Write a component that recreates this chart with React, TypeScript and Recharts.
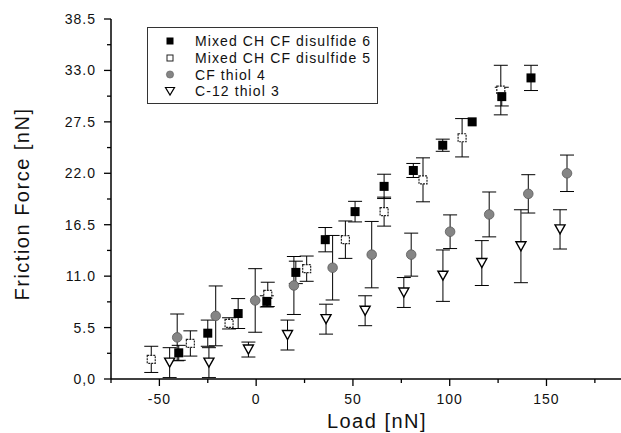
import { ErrorBar, Legend, Scatter, ScatterChart, XAxis, YAxis } from 'recharts';

// Mixed CH CF disulfide 6 (filled squares)
const disulfide6Load = [-40, -25, -9.3, 5.5, 20.5, 35.7, 51.1, 66.1, 81.2, 96.4, 111.6, 126.9, 142];
const disulfide6Force = [2.8, 4.9, 7.0, 8.3, 11.4, 14.9, 17.9, 20.6, 22.3, 25.0, 27.5, 30.2, 32.2];
const disulfide6Err = [0.8, 1.4, 1.6, 0.6, 1.2, 1.3, 1.1, 1.3, 0.75, 0.65, 0, 1.0, 1.35];

// Mixed CH CF disulfide 5 (open squares)
const disulfide5Load = [-54.2, -34, -14, 6.0, 26.1, 46.1, 66.1, 86.2, 106.4, 126.4];
const disulfide5Force = [2.1, 3.8, 5.95, 9.05, 11.8, 14.9, 17.9, 21.3, 25.8, 30.9];
const disulfide5Err = [1.4, 1.35, 0.6, 1.3, 1.35, 2.0, 1.55, 2.35, 2.05, 2.65];

// CF thiol 4 (grey circles)
const cfThiolLoad = [-40.8, -20.9, -0.5, 19.5, 39.5, 59.7, 80.1, 100.2, 120.4, 140.6, 160.6];
const cfThiolForce = [4.45, 6.75, 8.4, 10.0, 11.9, 13.3, 13.3, 15.75, 17.6, 19.8, 22.0];
const cfThiolErr = [2.5, 3.2, 3.4, 3.1, 3.45, 3.55, 2.3, 1.8, 2.4, 2.05, 1.95];

// C-12 thiol 3 (open triangles)
const c12Load = [-44.7, -24.4, -4, 16.2, 36.1, 56.3, 76.3, 96.5, 116.6, 136.8, 157];
const c12Force = [1.75, 1.75, 3.15, 4.7, 6.4, 7.3, 9.25, 11.05, 12.4, 14.2, 16.0];
const c12Err = [1.6, 1.6, 0.8, 1.6, 1.6, 1.6, 1.6, 2.75, 2.4, 3.9, 2.1];

const seriesNames = ['Mixed CH CF disulfide 6', 'Mixed CH CF disulfide 5', 'CF thiol 4', 'C-12 thiol 3'];

const xTicks = [-75, -50, -25, 0, 25, 50, 75, 100, 125, 150, 175];
const yTicks = [0, 2.75, 5.5, 8.25, 11, 13.75, 16.5, 19.25, 22, 24.75, 27.5, 30.25, 33, 35.75, 38.5];
const yLabels = ['0,0', '5.5', '11.0', '16.5', '22.0', '27.5', '33.0', '38.5'];

const FONT = 'Liberation Sans, Arial, sans-serif';

const toPoints = (xs: number[], ys: number[], es: number[]) =>
  xs.map((x, i) => ({ load: x, force: ys[i], err: es[i] }));

function FilledSquare({ cx, cy, s = 9 }: any) {
  return <rect x={cx - s / 2} y={cy - s / 2} width={s} height={s} fill="#000" />;
}

function OpenSquare({ cx, cy, s = 8 }: any) {
  return (
    <rect x={cx - s / 2} y={cy - s / 2} width={s} height={s} fill="#fff" stroke="#222" strokeWidth={1.2} strokeDasharray="2 1" />
  );
}

function GreyCircle({ cx, cy, r = 4.8 }: any) {
  return <circle cx={cx} cy={cy} r={r} fill="#858585" stroke="#5a5a5a" strokeWidth={0.8} />;
}

function DownTriangle({ cx, cy, w = 10, h = 9 }: any) {
  const pts = `${cx - w / 2},${cy - h / 2} ${cx + w / 2},${cy - h / 2} ${cx},${cy + h / 2}`;
  return <polygon points={pts} fill="#fff" stroke="#000" strokeWidth={1.4} />;
}

function XTick({ x, y, payload }: any) {
  const major = payload.value % 50 === 0;
  return (
    <g>
      <line x1={x} x2={x} y1={y} y2={y + (major ? 7 : 4)} stroke="#000" strokeWidth={1.3} />
      {major && (
        <text x={x} y={y + 25} textAnchor="middle" fontSize={14} letterSpacing={1} fontFamily={FONT} fill="#111">
          {payload.value}
        </text>
      )}
    </g>
  );
}

function YTick({ x, y, index }: any) {
  const major = index % 2 === 0;
  return (
    <g>
      <line x1={x} x2={x - (major ? 7 : 4)} y1={y} y2={y} stroke="#000" strokeWidth={1.3} />
      {major && (
        <text x={x - 15} y={y + 5} textAnchor="end" fontSize={14} letterSpacing={1} fontFamily={FONT} fill="#111">
          {yLabels[index / 2]}
        </text>
      )}
    </g>
  );
}

function LegendBox() {
  const rows = [14, 31, 47.5, 64];
  const markers = [
    <rect key="a" x={19.5} y={rows[0] - 3.5} width={7} height={7} fill="#000" />,
    <rect key="b" x={20} y={rows[1] - 3} width={6} height={6} fill="#fff" stroke="#222" strokeWidth={1} />,
    <circle key="c" cx={23} cy={rows[2]} r={3.6} fill="#858585" stroke="#5a5a5a" strokeWidth={0.6} />,
    <polygon key="d" points={`${18.5},${rows[3] - 3.5} ${27.5},${rows[3] - 3.5} ${23},${rows[3] + 4}`} fill="#fff" stroke="#000" strokeWidth={1.2} />,
  ];
  return (
    <svg width={231} height={77} style={{ display: 'block' }}>
      <rect x={0.5} y={0.5} width={230} height={76} fill="#fff" stroke="#333" strokeWidth={1} />
      {markers}
      {seriesNames.map((name, i) => (
        <text key={name} x={48} y={rows[i] + 5} fontSize={14} letterSpacing={1.1} fontFamily={FONT} fill="#111">
          {name}
        </text>
      ))}
    </svg>
  );
}

export default function App() {
  return (
    <div style={{ position: 'absolute', left: 0, top: 0, width: 621, height: 433, background: '#fff' }}>
      <ScatterChart width={621} height={433} margin={{ top: 19, right: 0, bottom: 0, left: 0 }}>
        <XAxis
          type="number"
          dataKey="load"
          domain={[-75, 188.5]}
          ticks={xTicks}
          allowDataOverflow
          height={54}
          tickSize={0}
          tickMargin={0}
          tickLine={false}
          tick={<XTick />}
          axisLine={{ stroke: '#000', strokeWidth: 1.5 }}
          label={{
            content: () => (
              <text x={377} y={428} textAnchor="middle" fontSize={20} letterSpacing={1.5} fontFamily={FONT} fill="#111">
                Load [nN]
              </text>
            ),
          }}
        />
        <YAxis
          type="number"
          dataKey="force"
          domain={[0, 38.5]}
          ticks={yTicks}
          allowDataOverflow
          width={111}
          tickSize={0}
          tickMargin={0}
          tickLine={false}
          tick={<YTick />}
          axisLine={{ stroke: '#000', strokeWidth: 1.5 }}
          label={{
            content: () => (
              <text
                x={22}
                y={204}
                transform="rotate(-90 22 204)"
                textAnchor="middle"
                dominantBaseline="central"
                fontSize={20}
                letterSpacing={1.5}
                fontFamily={FONT}
                fill="#111"
              >
                Friction Force [nN]
              </text>
            ),
          }}
        />
        <Legend
          layout="vertical"
          align="center"
          verticalAlign="middle"
          content={() => <LegendBox />}
          wrapperStyle={{ left: 147, top: 27, width: 231, height: 77 }}
        />
        <Scatter name={seriesNames[3]} data={toPoints(c12Load, c12Force, c12Err)} shape={<DownTriangle />} isAnimationActive={false}>
          <ErrorBar dataKey="err" direction="y" width={7} stroke="#000" strokeWidth={1} isAnimationActive={false} />
        </Scatter>
        <Scatter name={seriesNames[2]} data={toPoints(cfThiolLoad, cfThiolForce, cfThiolErr)} shape={<GreyCircle />} isAnimationActive={false}>
          <ErrorBar dataKey="err" direction="y" width={7} stroke="#000" strokeWidth={1} isAnimationActive={false} />
        </Scatter>
        <Scatter name={seriesNames[1]} data={toPoints(disulfide5Load, disulfide5Force, disulfide5Err)} shape={<OpenSquare />} isAnimationActive={false}>
          <ErrorBar dataKey="err" direction="y" width={7} stroke="#000" strokeWidth={1} isAnimationActive={false} />
        </Scatter>
        <Scatter name={seriesNames[0]} data={toPoints(disulfide6Load, disulfide6Force, disulfide6Err)} shape={<FilledSquare />} isAnimationActive={false}>
          <ErrorBar dataKey="err" direction="y" width={7} stroke="#000" strokeWidth={1} isAnimationActive={false} />
        </Scatter>
      </ScatterChart>
    </div>
  );
}
